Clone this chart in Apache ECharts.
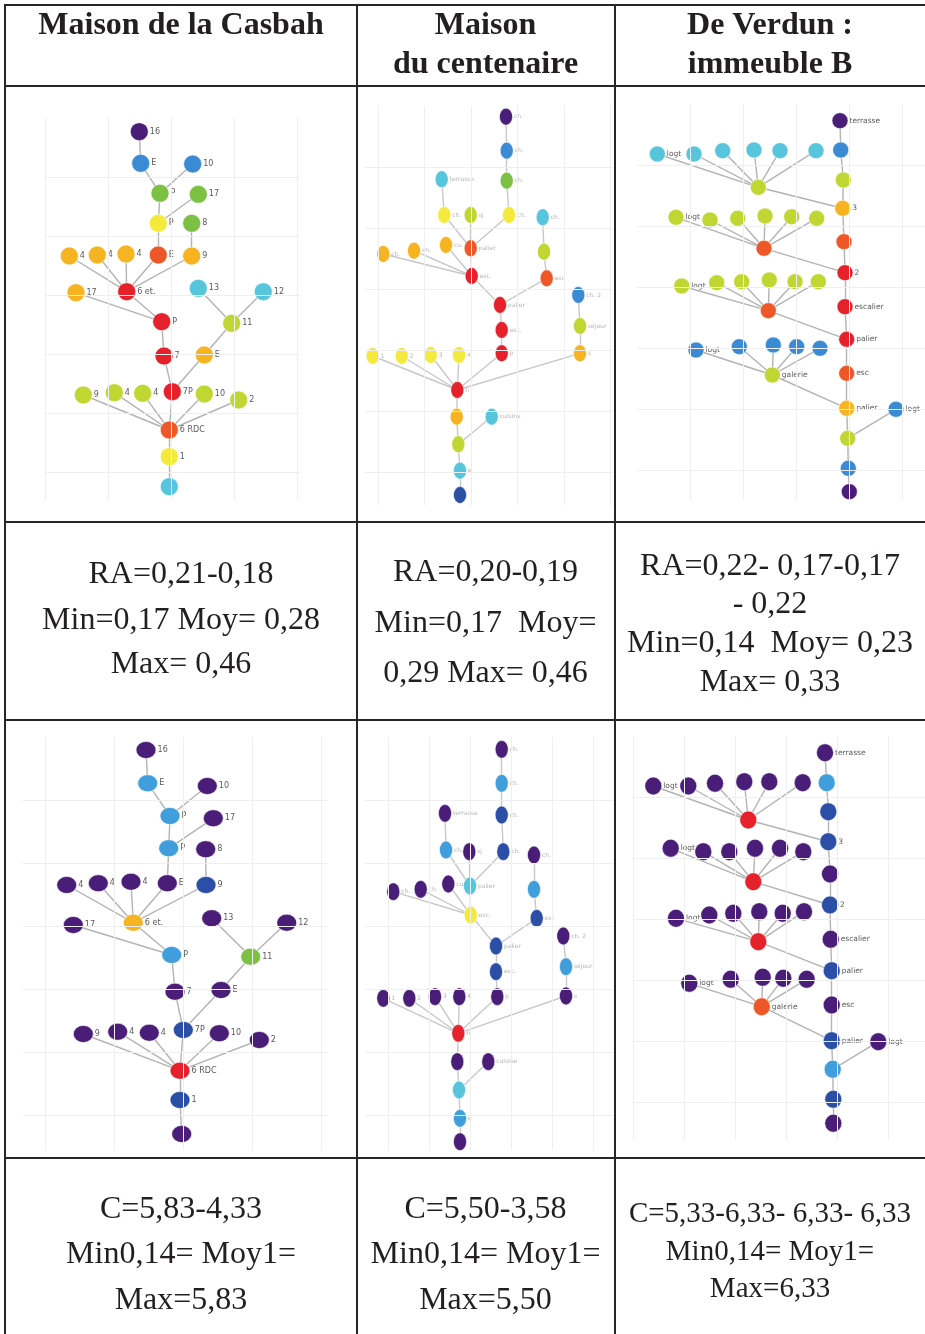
<!DOCTYPE html>
<html>
<head>
<meta charset="utf-8">
<script src="https://cdn.jsdelivr.net/npm/echarts@6/dist/echarts.min.js"></script>
<style>
html,body{margin:0;padding:0;background:#fff;}
#chart{width:925px;height:1334px;}
</style>
</head>
<body>
<div id="chart"></div>
<script>
// ---------- DATA ----------
const headerTexts = [['Maison de la Casbah'], ['Maison', 'du centenaire'], ['De Verdun :', 'immeuble B']];
const raTexts = [
  ['RA=0,21-0,18', 'Min=0,17 Moy= 0,28', 'Max= 0,46'],
  ['RA=0,20-0,19', 'Min=0,17  Moy=', '0,29 Max= 0,46'],
  ['RA=0,22- 0,17-0,17', '- 0,22', 'Min=0,14  Moy= 0,23', 'Max= 0,33']
];
const cTexts = [
  ['C=5,83-4,33', 'Min0,14= Moy1=', 'Max=5,83'],
  ['C=5,50-3,58', 'Min0,14= Moy1=', 'Max=5,50'],
  ['C=5,33-6,33- 6,33- 6,33', 'Min0,14= Moy1=', 'Max=6,33']
];

// Maison de la Casbah
const casbahLabels = ['16','E','10','P','17','P','8','4','4','4','E','9','6 et.','17','13','12','P','11','7','E','7P','9','4','4','10','2','6 RDC','1',''];
const casbahEdges = [[0,1],[1,3],[2,3],[3,5],[4,5],[5,10],[6,11],[7,12],[8,12],[9,12],[10,12],[11,12],[13,16],[12,16],[14,17],[15,17],[17,19],[16,18],[18,20],[19,20],[20,26],[21,26],[22,26],[23,26],[24,26],[25,26],[26,27],[27,28]];
const casbahTopX = [94.3,95.7,147.7,115,153.3,113.3,146.7,24.3,52.3,81,113.3,146.7,81.7,31,153.3,218.3,116.7,186.7,119,159.3,127.3,38.3,69.3,97.7,159.3,193.7,124.3,124.3,124.3];
const casbahTopY = [13.7,45.3,46,75.3,76.3,105.3,105.3,138,137,136,137,138,173.7,174.7,170.3,173.7,203.7,205.3,238,237,273.7,277,274.7,275.3,276,282,312,338.7,368.7];
const casbahTopColors = ['pu','bl','bl','gr','gr','ye','gr','or','or','or','ro','or','re','or','cy','cy','re','yg','re','or','re','yg','yg','yg','yg','yg','ro','ye','cy'];
const casbahBotX = [101,102.7,162.3,125,168.3,123.7,160.7,21.7,53.3,86,122.3,161,88.3,28.3,166.7,241.7,126.7,205.7,130,176,138.3,38.3,72.7,104.3,174.3,214.3,135,135,136.7];
const casbahBotY = [13,46.3,49,79,81.3,111.3,112.3,148,146.3,144.7,146.3,148,185.7,188,181.3,185.7,218,219.7,254.7,253,293,297,294.7,295.7,296.3,303,333.7,363,397];
const casbahBotColors = ['pu','lb','pu','lb','pu','lb','pu','pu','pu','pu','pu','db','or','pu','pu','pu','lb','gr','pu','pu','db','pu','pu','pu','pu','pu','re','db','pu'];

// Maison du centenaire
const centenaireLabels = ['ch.','ch.','ch.','terrasse','ch.','sj','ch.','ch.','cu.','palier','ch.','ch.','','esc.','esc','palier','ch. 2','esc.','séjour','p','s','1','2','3','4','h','','cuisine','','e',''];
const centenaireEdges = [[0,1],[1,2],[2,6],[6,9],[3,4],[4,9],[5,9],[9,13],[8,13],[10,13],[11,13],[13,15],[7,12],[12,14],[14,15],[15,17],[17,19],[19,25],[21,25],[22,25],[23,25],[24,25],[16,18],[18,20],[20,25],[25,26],[26,28],[27,28],[28,29],[29,30]];
const centenaireTopX = [128,128.7,128.7,63.7,66.3,92.7,131,164.7,68,92.7,5.3,36,166,93.7,168.7,122,200.3,123.7,202,123.7,202,-5.3,23.7,52.7,81,79.3,78.7,113.7,80.3,82,82];
const centenaireTopY = [10.7,44.7,74.7,73.3,109,109,109,111.3,139,142.3,148,144.7,145.7,170,172.3,199,189,224,220,247.3,247.3,250,250,249,249,284,310.7,310.7,338.3,364.7,389];
const centenaireTopColors = ['pu','bl','gr','cy','ye','yg','ye','cy','or','ro','or','or','yg','re','ro','re','bl','re','yg','re','or','ye','ye','ye','ye','re','or','cy','yg','cy','db'];
const centenaireBotX = [113.7,113.7,113.7,57,58,81.3,115.3,146,60.3,82,5.3,32.7,146,82.7,148.7,108,175.3,108,178,109.3,178,-4.7,21.3,47,71.3,70.3,69.3,100.3,71,72,72];
const centenaireBotY = [12.3,46.3,78,76.3,113,114.7,114.7,118,147,149,154.7,152.3,152.3,178,181.3,209,199,234.7,229.7,259.7,259,261.3,261.3,259.7,259.7,296.3,324.7,324.7,353,381.3,404.7];
const centenaireBotColors = ['pu','lb','db','pu','lb','pu','db','pu','pu','cy','pu','pu','lb','ye','db','db','pu','db','lb','pu','pu','pu','pu','pu','pu','re','pu','pu','cy','lb','pu'];

// De Verdun : immeuble B
const verdunLabels = ['terrasse','','','3','','2','escalier','palier','esc','palier','','','','logt','','logt','','','','','','','logt','','','','','','','logt','','','','','','galerie','logt','','','',''];
const verdunEdges = [[0,1],[1,2],[2,3],[3,4],[4,5],[5,6],[6,7],[7,8],[8,9],[9,10],[10,11],[11,12],[10,13],
  [14,3],[15,14],[16,14],[17,14],[18,14],[19,14],[20,14],
  [21,5],[22,21],[23,21],[24,21],[25,21],[26,21],[27,21],
  [28,7],[29,28],[30,28],[31,28],[32,28],[33,28],[34,28],
  [35,9],[36,35],[37,35],[38,35],[39,35],[40,35]];
const verdunTopX = [203,203.7,206.3,205.7,207,208,208,209.7,209.7,209.7,210.7,211.3,212.3,259,121.3,20.3,57,85.7,117,143,179,127,39,73,100.7,128,154.7,179.7,131.3,44.7,79.7,104.7,132.3,158,181.3,135.3,59,102.3,136.3,159.7,183];
const verdunTopY = [16.7,46,76,104.3,137.7,168.7,202.7,235.3,269.3,304.3,334.3,364.3,387.7,305.3,83.3,50,50,46.7,46,46.7,46.7,144.3,113.3,116,114.3,112,112.7,114.3,206.7,182,178.7,177.7,176,177.7,177.7,271,246,242.7,241,242.7,244.3];
const verdunTopColors = ['pu','bl','yg','or','ro','re','re','re','ro','or','yg','bl','pu','bl','yg','cy','cy','cy','cy','cy','cy','ro','yg','yg','yg','yg','yg','yg','ro','yg','yg','yg','yg','yg','yg','yg','bl','bl','bl','bl','bl'];
const verdunBotX = [192,193.7,195.3,195.3,197,197,197.7,198.7,198.7,198.7,199.7,200.3,200.3,245.3,115.3,20.3,55.3,82,111.3,136.3,169.7,120.3,37.7,70.3,96.3,122,147,170.3,125.3,43,76.3,100.3,126.3,149.7,171,128.7,56.3,97.7,129.7,150.3,173.7];
const verdunBotY = [16.7,46.7,75.7,105.7,138,169,203.3,234.7,269,304.7,333.3,363.3,387.3,305.7,84,50,50,47.3,45.7,45.7,46.7,145.7,112.3,115.7,115.7,112.3,112.3,115.7,205.7,182.3,179,177.3,175.7,177.3,175.7,270.7,247.3,243.3,241.3,242.3,243.3];
const verdunBotColors = ['pu','lb','db','db','pu','db','pu','db','pu','db','lb','db','pu','pu','re','pu','pu','pu','pu','pu','pu','re','pu','pu','pu','pu','pu','pu','re','pu','pu','pu','pu','pu','pu','ro','pu','pu','pu','pu','pu'];

// faint background grid ticks of each embedded diagram (local units)
const casbahTopGridX = [0,63,126,189,252], casbahTopGridY = [59,118,177,236,295,354];
const casbahBotGridX = [0,69,138,207,276], casbahBotGridY = [63,126,189,252,315,378];
const centenaireTopGridX = [0,46.5,93,139.5,186,232.5], centenaireTopGridY = [61,122,183,244,305,366];
const centenaireBotGridX = [0,41,82,123,164,205], centenaireBotGridY = [63,126,189,252,315,378];
const verdunTopGridX = [53,106,159,212,265], verdunTopGridY = [61,122,183,244,305,366];
const verdunBotGridX = [0,51,102,153,204,255], verdunBotGridY = [61,122,183,244,305,366];

// ---------- STYLE / LAYOUT ----------
const COLORS = {pu:'#4a1d78', db:'#2b4ea6', bl:'#3a8bd4', lb:'#3f9edb', cy:'#57c5dc', gr:'#7cc144', yg:'#c0d633', ye:'#f3ea3d', or:'#f6b322', ro:'#ee5828', re:'#e5222b'};
const COL = [[6,350],[358,256],[616,309]];
const ROWG = [[87,434],[721,436]];

const panels = [
  {x:casbahTopX, y:casbahTopY, c:casbahTopColors, lab:casbahLabels, e:casbahEdges, col:0, row:0, origin:[45,118], size:[18,18], box:[0,255,0,382], gx:casbahTopGridX, gy:casbahTopGridY, fs:8, lc:'#5a5a5a', ec:'#b3b3b3'},
  {x:centenaireTopX, y:centenaireTopY, c:centenaireTopColors, lab:centenaireLabels, e:centenaireEdges, col:1, row:0, origin:[378,106], size:[13,17], box:[-13,235,0,399], gx:centenaireTopGridX, gy:centenaireTopGridY, fs:6, lc:'#b5b5b5', ec:'#c8c8c8'},
  {x:verdunTopX, y:verdunTopY, c:verdunTopColors, lab:verdunLabels, e:verdunEdges, col:2, row:0, origin:[637,104], size:[16,16], box:[0,288,0,396], gx:verdunTopGridX, gy:verdunTopGridY, fs:7.5, lc:'#5a5a5a', ec:'#b3b3b3'},
  {x:casbahBotX, y:casbahBotY, c:casbahBotColors, lab:casbahLabels, e:casbahEdges, col:0, row:1, origin:[45,737], size:[20,17], box:[-22,283,0,413], gx:casbahBotGridX, gy:casbahBotGridY, fs:8, lc:'#5a5a5a', ec:'#b3b3b3'},
  {x:centenaireBotX, y:centenaireBotY, c:centenaireBotColors, lab:centenaireLabels, e:centenaireEdges, col:1, row:1, origin:[388,737], size:[13,18], box:[-23,225,0,413], gx:centenaireBotGridX, gy:centenaireBotGridY, fs:6, lc:'#b5b5b5', ec:'#c8c8c8'},
  {x:verdunBotX, y:verdunBotY, c:verdunBotColors, lab:verdunLabels, e:verdunEdges, col:2, row:1, origin:[633,736], size:[17,18], box:[0,292,0,404], gx:verdunBotGridX, gy:verdunBotGridY, fs:7.5, lc:'#5a5a5a', ec:'#b3b3b3'}
];

const grids = [], xAxes = [], yAxes = [], series = [];
panels.forEach((p, i) => {
  const [cl, cw] = COL[p.col];
  const [ct, ch] = ROWG[p.row];
  grids.push({left: cl, top: ct, width: cw, height: ch, containLabel: false});
  xAxes.push({gridIndex: i, type: 'value', show: false, min: cl - p.origin[0], max: cl + cw - p.origin[0]});
  yAxes.push({gridIndex: i, type: 'value', show: false, inverse: true, min: ct - p.origin[1], max: ct + ch - p.origin[1]});
  const ml = [];
  p.gx.forEach(v => ml.push([{coord: [v, p.box[2]]}, {coord: [v, p.box[3]]}]));
  p.gy.forEach(v => ml.push([{coord: [p.box[0], v]}, {coord: [p.box[1], v]}]));
  series.push({
    type: 'scatter', xAxisIndex: i, yAxisIndex: i, data: [], silent: true, z: 1, animation: false,
    markLine: {silent: true, animation: false, symbol: ['none','none'], label: {show: false},
      lineStyle: {color: '#efefef', width: 1, type: 'solid'}, emphasis: {disabled: true}, data: ml}
  });
  series.push({
    type: 'graph', coordinateSystem: 'cartesian2d', xAxisIndex: i, yAxisIndex: i,
    z: 3, silent: true, animation: false, symbol: 'circle', symbolSize: p.size,
    data: p.x.map((v, k) => ({
      name: 'n' + i + '_' + k, value: [v, p.y[k]],
      itemStyle: {color: COLORS[p.c[k]]},
      label: {show: p.lab[k] !== '', formatter: p.lab[k]}
    })),
    links: p.e.map(e => ({source: e[0], target: e[1]})),
    lineStyle: {color: p.ec, width: 1.4, opacity: 1, curveness: 0},
    itemStyle: {borderColor: 'rgba(255,255,255,0.55)', borderWidth: 1},
    label: {position: 'right', distance: 1, fontSize: p.fs, color: p.lc, fontFamily: 'DejaVu Sans'},
    emphasis: {disabled: true}
  });
});

// table rules and cell texts
const graphic = [];
const LINE = {stroke: '#262626', lineWidth: 2};
[5, 86, 522, 720, 1158].forEach(y => graphic.push({type: 'line', shape: {x1: 4, y1: y, x2: 925, y2: y}, style: LINE, z: 10}));
[5, 357, 615].forEach(x => graphic.push({type: 'line', shape: {x1: x, y1: 4, x2: x, y2: 1334}, style: LINE, z: 10}));

const colCenters = [181, 485.5, 770];
const headerY = [[26], [26, 65], [26, 65]];
const raY = [[575, 621, 665], [573, 624, 674], [567, 605, 644, 683]];
const cY = [[1210, 1255, 1301], [1210, 1255, 1301], [1214, 1252, 1289]];
const cSize = [32, 32, 29];
function addText(t, x, y, font) {
  graphic.push({type: 'text', x: x, y: y, z: 11, style: {text: t, font: font, fill: '#231f20', align: 'center', verticalAlign: 'middle'}});
}
headerTexts.forEach((lines, c) => lines.forEach((t, k) => addText(t, colCenters[c], headerY[c][k], 'bold 32px "Liberation Serif"')));
raTexts.forEach((lines, c) => lines.forEach((t, k) => addText(t, colCenters[c], raY[c][k], '32px "Liberation Serif"')));
cTexts.forEach((lines, c) => lines.forEach((t, k) => addText(t, colCenters[c], cY[c][k], cSize[c] + 'px "Liberation Serif"')));

const chart = echarts.init(document.getElementById('chart'), null, {renderer: 'canvas'});
chart.setOption({
  backgroundColor: '#ffffff',
  animation: false,
  grid: grids, xAxis: xAxes, yAxis: yAxes, series: series, graphic: graphic
});
</script>
</body>
</html>
